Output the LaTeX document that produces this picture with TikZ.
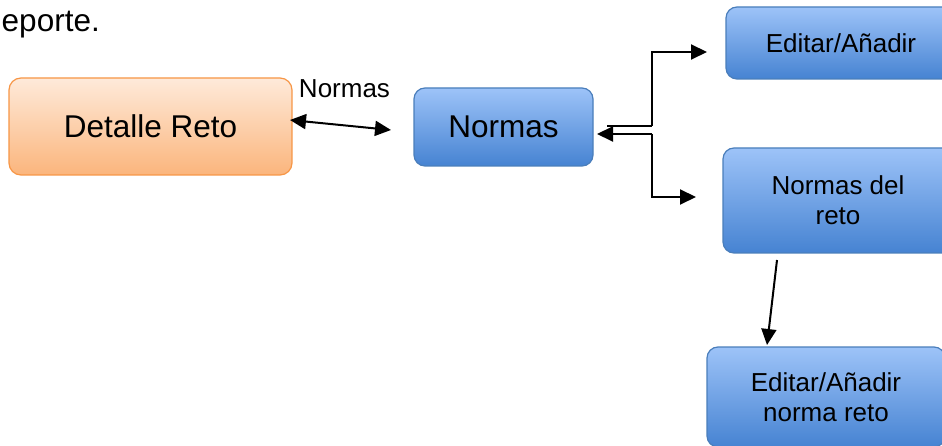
\documentclass[tikz,border=0pt]{standalone}
\usepackage{fontspec}
\setmainfont{Liberation Sans}
\usetikzlibrary{arrows.meta}
\definecolor{bluetop}{HTML}{9DC3F8}
\definecolor{bluebot}{HTML}{4683D2}
\definecolor{blueedge}{HTML}{4A7EBB}
\definecolor{orangetop}{HTML}{FEEADA}
\definecolor{orangebot}{HTML}{FBB57C}
\definecolor{orangeedge}{HTML}{F79646}
\tikzset{
  bluebox/.style={draw=blueedge, line width=1.2pt, rounded corners=11pt,
    top color=bluetop, bottom color=bluebot, align=center, inner sep=0pt},
  orangebox/.style={draw=orangeedge, line width=1.2pt, rounded corners=12pt,
    top color=orangetop, bottom color=orangebot, align=center, inner sep=0pt},
  big/.style={font=\fontsize{31.5}{36}\selectfont},
  mid/.style={font=\fontsize{26}{30}\selectfont},
  conn/.style={line width=2pt, -{Triangle[length=16pt,width=15pt]}},
  dconn/.style={line width=2pt, {Triangle[length=16pt,width=15pt]}-{Triangle[length=16pt,width=15pt]}},
  plain/.style={line width=2pt}
}
\begin{document}
\begin{tikzpicture}[x=1pt,y=-1pt]
\useasboundingbox (0,0) rectangle (942,446);
\clip (0,0) rectangle (942,446);
\fill[white] (0,0) rectangle (942,446);
% top text fragment
\node[big, anchor=base east, inner sep=0pt] (top) at (100,32) {deporte.};
% boxes
\node[orangebox, big, minimum width=283pt, minimum height=97pt] (det) at (150.5,126.5) {Detalle Reto};
\node[bluebox, big, minimum width=179pt, minimum height=78pt] (nor) at (503.5,127) {Normas};
\node[bluebox, mid, minimum width=230pt, minimum height=72pt] (edit) at (841,43) {Editar/Añadir};
\node[bluebox, mid, minimum width=230pt, minimum height=105pt] (ndr) at (838,200.5) {Normas del\\reto};
\node[bluebox, mid, minimum width=238pt, minimum height=100pt] (enr) at (826,397) {Editar/Añadir\\norma reto};
% label
\node[mid, inner sep=0pt] (lbl) at (344.5,88.5) {Normas};
% connectors
\coordinate (d1) at (290,120);
\coordinate (d2) at (391,130);
\draw[dconn] (d1) -- (d2);
\coordinate (j1) at (652,126);
\coordinate (j2) at (652,134);
\coordinate (s1) at (607,126);
\coordinate (s2) at (597,134);
\coordinate (t1) at (707,52);
\coordinate (t2) at (696,197);
\draw[plain] (s1) -- (j1);
\draw[conn] (j2) -- (s2);
\draw[conn] (j1) |- (t1);
\draw[conn] (j2) |- (t2);
\coordinate (b1) at (777,260);
\coordinate (b2) at (767,345);
\draw[conn] (b1) -- (b2);
\end{tikzpicture}
\end{document}
